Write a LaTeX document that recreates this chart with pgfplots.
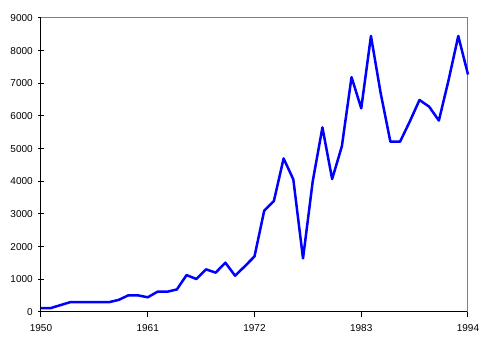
\documentclass[border=0pt]{standalone}
\usepackage{fontspec}
\setmainfont{Liberation Sans}
\usepackage{pgfplots}
\pgfplotsset{compat=1.18}
\begin{document}
\fontsize{10pt}{12pt}\selectfont
\begin{tikzpicture}[x=1pt,y=1pt]
\useasboundingbox (-41pt,-30pt) rectangle (444pt,312pt);
\begin{axis}[
  at={(0pt,0pt)}, anchor=south west,
  scale only axis, width=427pt, height=294pt,
  xmin=1950, xmax=1994, ymin=0, ymax=9000,
  xtick={1950,1961,1972,1983,1994},
  ytick={0,1000,2000,3000,4000,5000,6000,7000,8000,9000},
  /pgf/number format/1000 sep={},
  /pgf/number format/assume math mode=true,
  ticklabel style={font=\fontsize{10pt}{12pt}\selectfont},
  axis x line*=bottom, axis y line*=left,
  axis line style={black, line width=1pt, -},
  major tick length=5.5pt,
  x tick style={black, line width=1pt},
  y tick style={black, line width=1pt},
  xtick align=outside, ytick align=center,
  xticklabel style={yshift=-3pt},
  yticklabel style={xshift=-2pt},
  clip=false,
]
\draw[gray, line width=1pt] (rel axis cs:0,1) -- (rel axis cs:1,1) -- (rel axis cs:1,0);
\addplot[blue, line width=2.5pt, line join=round] coordinates {
(1950,120) (1951,120) (1952,210) (1953,300) (1954,300) (1955,300) (1956,300) (1957,300)
(1958,370) (1959,510) (1960,510) (1961,450) (1962,620) (1963,620) (1964,690)
(1965,1130) (1966,1010) (1967,1305) (1968,1205) (1969,1510) (1970,1110) (1971,1400)
(1972,1700) (1973,3100) (1974,3400) (1975,4700) (1976,4060) (1977,1640) (1978,4000)
(1979,5650) (1980,4070) (1981,5070) (1982,7190) (1983,6234) (1984,8449) (1985,6700)
(1986,5214) (1987,5214) (1988,5830) (1989,6490) (1990,6285) (1991,5860) (1992,7100)
(1993,8449) (1994,7270)
};
\end{axis}
\end{tikzpicture}
\end{document}
